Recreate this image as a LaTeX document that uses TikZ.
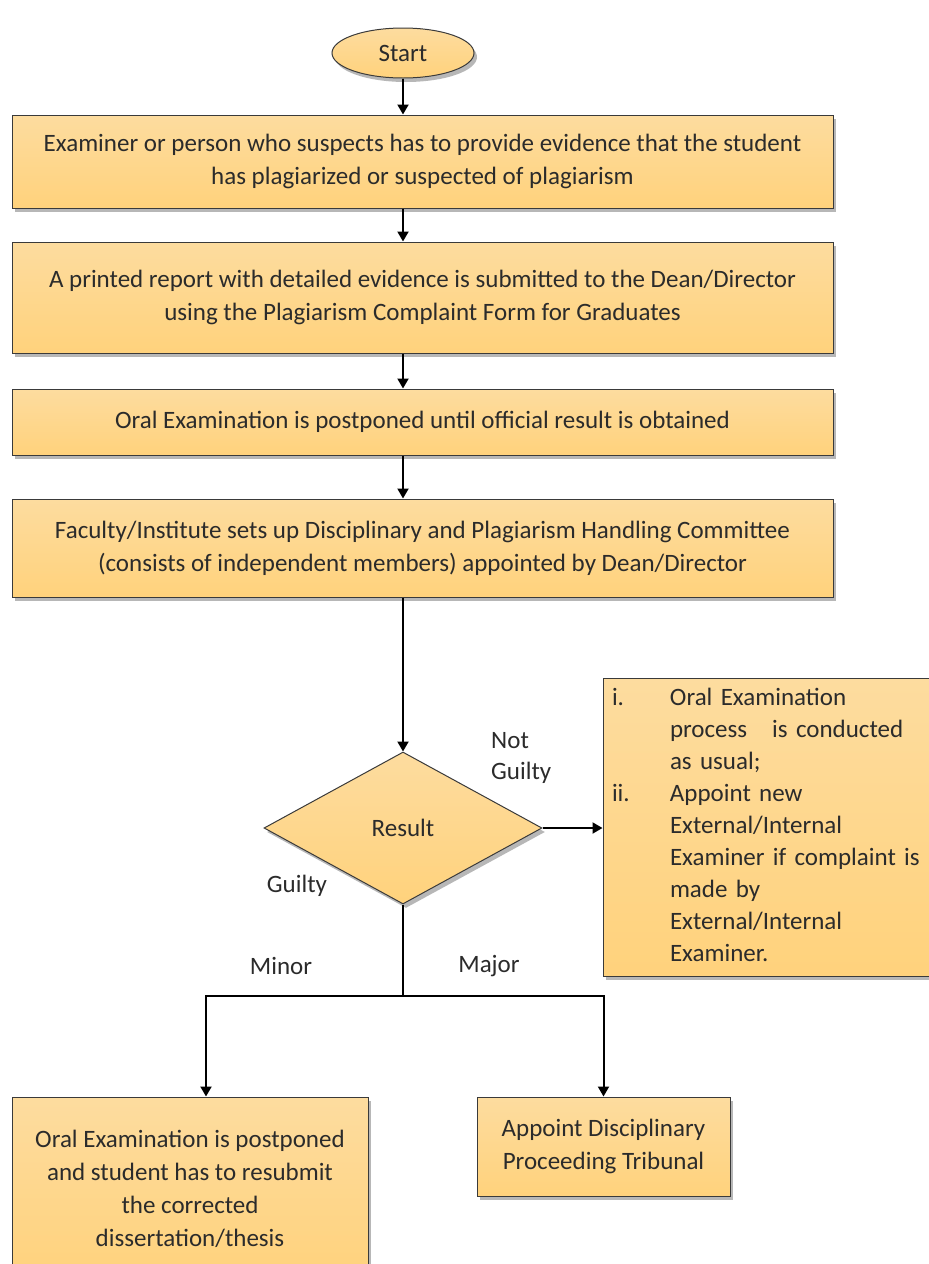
\documentclass[tikz,border=0pt]{standalone}
\usepackage{fontspec}
\setmainfont{Carlito}
\usepackage{tikz}
\usetikzlibrary{arrows.meta,shapes.geometric,shadows}
\definecolor{boxtop}{HTML}{FDDC9F}
\definecolor{boxbot}{HTML}{FFD27C}
\definecolor{ink}{HTML}{2B2B2B}
\definecolor{edge}{HTML}{3A3A3A}
\tikzset{
  card/.style={draw=edge,line width=1pt,top color=boxtop,bottom color=boxbot,
    drop shadow={shadow xshift=3pt,shadow yshift=-4pt,opacity=0.4,fill=black!70},
    inner sep=0pt,text=ink,font=\fontsize{25}{33}\selectfont,align=center},
  lbl/.style={text=ink,font=\fontsize{25}{31}\selectfont,align=left,inner sep=0pt},
  arr/.style={-{Triangle[length=10pt,width=11pt]},line width=2pt,black},
  link/.style={line width=2pt,black}
}

\begin{document}
\begin{tikzpicture}[x=1pt,y=-1pt]
\useasboundingbox (0,0) rectangle (929,1264);
% steps
\node[card,ellipse,minimum width=142pt,minimum height=50pt] (start) at (403,53) {Start};
\node[card,minimum width=821pt,minimum height=93pt] (b1) at (422.5,161.5) {Examiner or person who suspects has to provide evidence that the student\\has plagiarized or suspected of plagiarism};
\node[card,minimum width=821pt,minimum height=111pt] (b2) at (422.5,297.5) {A printed report with detailed evidence is submitted to the Dean/Director\\using the Plagiarism Complaint Form for Graduates};
\node[card,minimum width=821pt,minimum height=66pt] (b3) at (422.5,422) {Oral Examination is postponed until official result is obtained};
\node[card,minimum width=821pt,minimum height=98pt] (b4) at (422.5,548) {Faculty/Institute sets up Disciplinary and Plagiarism Handling Committee\\(consists of independent members) appointed by Dean/Director};
\node[card,diamond,minimum width=278pt,minimum height=152pt] (res) at (403,828) {Result};
\node[card,minimum height=298pt,text width=316pt,inner xsep=9pt,align=left,font=\fontsize{25}{32}\selectfont] (notg) at (770,827) {%
\begin{tabular}{@{}p{58pt}@{}l@{}}
i. & Oral Examination\\
   & process\quad is conducted\\
   & as usual;\\
ii. & Appoint new\\
   & External/Internal\\
   & Examiner if complaint is\\
   & made by\\
   & External/Internal\\
   & Examiner.
\end{tabular}};
\node[card,minimum width=356pt,minimum height=183pt] (minor) at (190,1188.5) {Oral Examination is postponed\\and student has to resubmit\\the corrected\\dissertation/thesis};
\node[card,minimum width=253pt,minimum height=99pt] (major) at (603.5,1146.5) {Appoint Disciplinary\\Proceeding Tribunal};
% labels
\node[lbl,anchor=west] (lnot) at (491,757.5) {Not\\Guilty};
\node[lbl] (lguilty) at (297,886) {Guilty};
\node[lbl] (lminor) at (281,966) {Minor};
\node[lbl] (lmajor) at (489,966) {Major};
\coordinate (split) at (403,996);
% connectors
\draw[arr] (start.south) -- (start.south |- b1.north);
\draw[arr] (start.south |- b1.south) -- (start.south |- b2.north);
\draw[arr] (start.south |- b2.south) -- (start.south |- b3.north);
\draw[arr] (start.south |- b3.south) -- (start.south |- b4.north);
\draw[arr] (res.north |- b4.south) -- (res.north);
\draw[arr] (res.east) -- (res.east -| notg.west);
\draw[link] (res.south) -- (split);
\draw[arr] (split) -| ([xshift=16pt]minor.north);
\draw[arr] (split) -| (major.north);
\end{tikzpicture}
\end{document}
